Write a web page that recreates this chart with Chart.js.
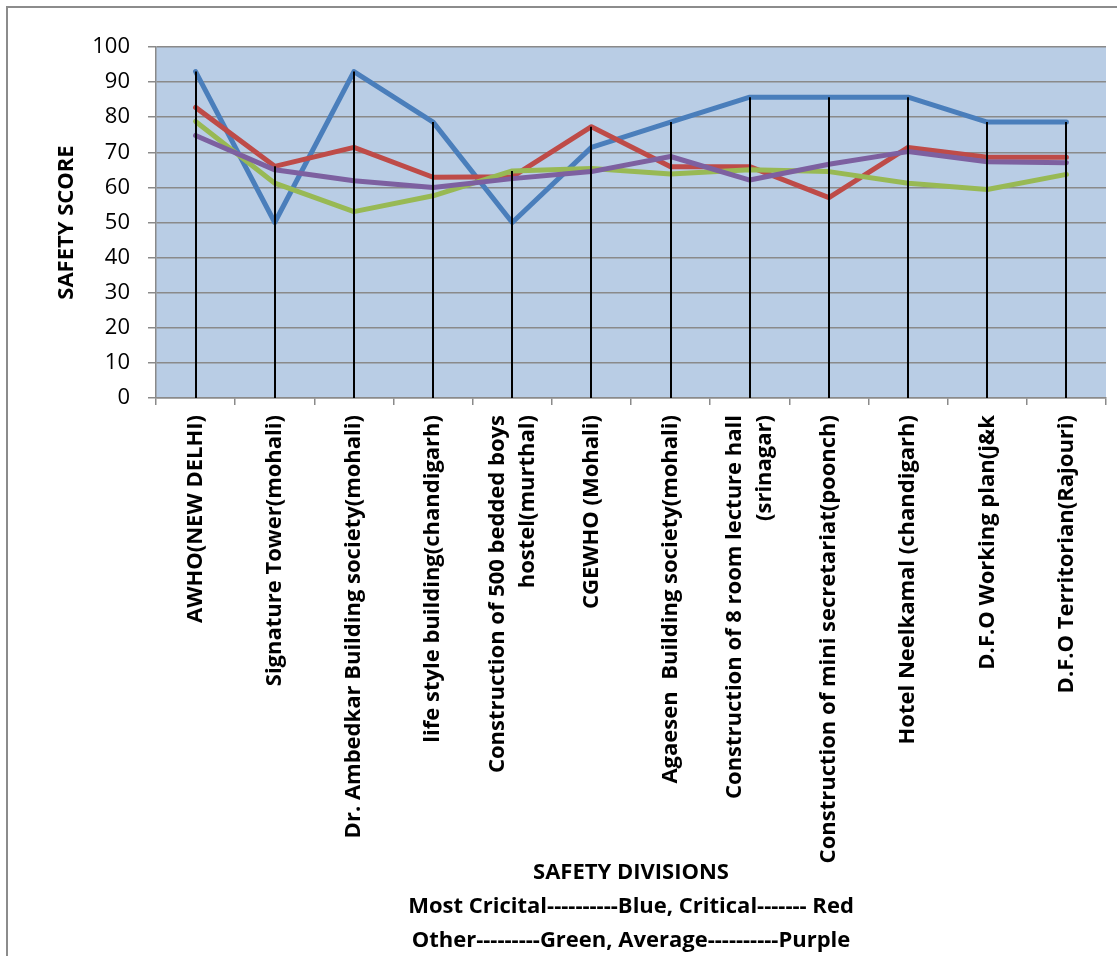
<!DOCTYPE html>
<html><head><meta charset="utf-8">
<script src="https://cdn.jsdelivr.net/npm/chart.js@4.4.1/dist/chart.umd.min.js"></script>
<style>html,body{margin:0;padding:0;background:#fff;overflow:hidden}</style>
</head><body>
<canvas id="c" width="1117" height="956"></canvas>
<script>
const categories = [
  "AWHO(NEW DELHI)",
  "Signature Tower(mohali)",
  "Dr. Ambedkar Building society(mohali)",
  "life style building(chandigarh)",
  ["Construction of 500 bedded boys", "hostel(murthal)"],
  "CGEWHO (Mohali)",
  "Agaesen  Building society(mohali)",
  ["Construction of 8 room lecture hall", "(srinagar)"],
  "Construction of mini secretariat(poonch)",
  "Hotel Neelkamal (chandigarh)",
  "D.F.O Working plan(j&k",
  "D.F.O Territorian(Rajouri)"
];
const mostCritical = [93, 50, 93, 78.6, 50, 71.4, 78.6, 85.7, 85.7, 85.7, 78.6, 78.6];
const critical     = [82.8, 66, 71.4, 62.9, 63, 77.3, 65.9, 65.9, 57.1, 71.4, 68.6, 68.6];
const other        = [78.8, 61.2, 53.1, 57.6, 64.7, 65.4, 63.8, 65, 64.5, 61.2, 59.4, 63.7];
const average      = [74.8, 65, 61.9, 60, 62.5, 64.5, 68.8, 62.1, 66.6, 70.2, 67.3, 67];
const seriesNames  = ["Most Critical", "Critical", "Other", "Average"];
const yAxisTitle = "SAFETY SCORE";
const xAxisTitle = ["SAFETY DIVISIONS", "Most Cricital----------Blue, Critical------- Red", "Other---------Green, Average----------Purple"];
const yMin = 0, yMax = 100, yStep = 10;

const FONT = "'Open Sans', sans-serif";
const X_LINE_H = 30;

const framePlugin = {
  id: 'frame',
  beforeDraw(chart) {
    const {ctx, chartArea: a} = chart;
    ctx.save();
    ctx.fillStyle = '#fff';
    ctx.fillRect(0, 0, chart.width, chart.height);
    ctx.strokeStyle = '#8c8c8c';
    ctx.lineWidth = 2;
    ctx.beginPath();
    ctx.moveTo(7, chart.height);
    ctx.lineTo(7, 7);
    ctx.lineTo(chart.width, 7);
    ctx.stroke();
    ctx.fillStyle = '#b9cde5';
    ctx.fillRect(a.left, a.top, a.right - a.left, a.bottom - a.top);
    ctx.restore();
    // center multi-line rotated category labels on their ticks
    const items = chart.scales.x.getLabelItems(chart.chartArea);
    items.forEach(it => {
      if (Array.isArray(it.label) && !it._centered) {
        it.textOffset -= (it.label.length - 1) * X_LINE_H / 2;
        it._centered = true;
      }
    });
  }
};

const dropLinePlugin = {
  id: 'dropLines',
  afterDatasetsDraw(chart) {
    const {ctx, scales: {x, y}} = chart;
    ctx.save();
    ctx.strokeStyle = '#000';
    ctx.lineWidth = 2;
    categories.forEach((c, i) => {
      const vals = chart.data.datasets.map(d => d.data[i]);
      const top = Math.max(...vals);
      const px = Math.round(x.getPixelForValue(i));
      ctx.beginPath();
      ctx.moveTo(px, y.getPixelForValue(top));
      ctx.lineTo(px, y.getPixelForValue(yMin));
      ctx.stroke();
    });
    ctx.restore();
  }
};

const lineStyle = (color) => ({
  borderColor: color, backgroundColor: color, borderWidth: 5,
  pointRadius: 0, tension: 0, borderCapStyle: 'round', borderJoinStyle: 'round', fill: false
});

new Chart(document.getElementById('c'), {
  type: 'line',
  data: {
    labels: categories,
    datasets: [
      {label: seriesNames[0], data: mostCritical, order: 4, ...lineStyle('#4a7ebb')},
      {label: seriesNames[1], data: critical, order: 3, ...lineStyle('#be4b48')},
      {label: seriesNames[2], data: other, order: 2, ...lineStyle('#98b954')},
      {label: seriesNames[3], data: average, order: 1, ...lineStyle('#7d60a0')}
    ]
  },
  options: {
    responsive: false,
    animation: false,
    devicePixelRatio: 1,
    layout: {padding: {top: 47, right: 11, bottom: 0, left: 0}},
    plugins: {legend: {display: false}, tooltip: {enabled: false}, title: {display: false}},
    scales: {
      x: {
        offset: true,
        grid: {offset: true, drawOnChartArea: false, drawTicks: true, tickLength: 7, color: '#8a8a8a', lineWidth: 1.5},
        border: {color: '#8a8a8a', width: 1.5},
        ticks: {autoSkip: false, maxRotation: 90, minRotation: 90, padding: 10, color: '#000',
                font: {family: FONT, size: 22, weight: 'bold', lineHeight: X_LINE_H + 'px'}},
        title: {display: true, text: xAxisTitle, color: '#000', padding: {top: 0, bottom: -2},
                font: {family: FONT, size: 22, weight: 'bold', lineHeight: '34px'}},
        afterFit(s) { s.height = 558; }
      },
      y: {
        min: yMin, max: yMax,
        grid: {color: '#8a8a8a', lineWidth: 1.5, tickLength: 8, drawTicks: true},
        border: {color: '#8a8a8a', width: 1.5},
        ticks: {stepSize: yStep, padding: 18, color: '#000', font: {family: FONT, size: 22}},
        title: {display: true, text: yAxisTitle, color: '#000', padding: {top: 53, bottom: 0},
                font: {family: FONT, size: 22, weight: 'bold', lineHeight: '28px'}},
        afterFit(s) { s.width = 156; }
      }
    }
  },
  plugins: [framePlugin, dropLinePlugin]
});
</script>
</body></html>
